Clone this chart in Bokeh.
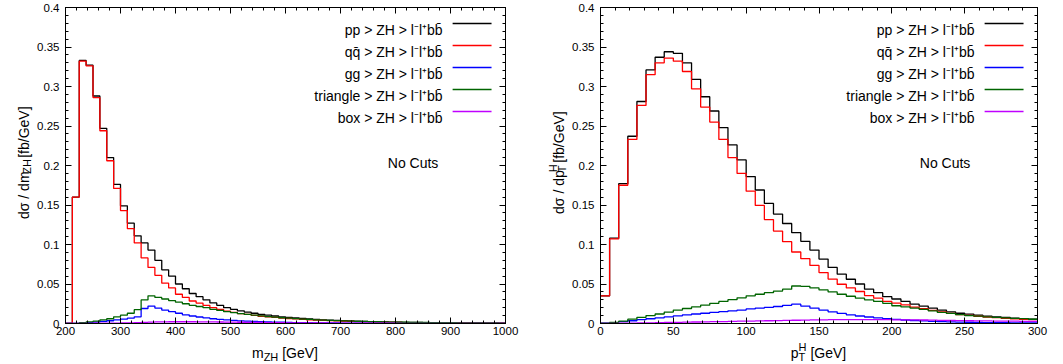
import math
from bokeh.plotting import figure
from bokeh.models import Range1d, LinearAxis, FixedTicker, Label
from bokeh.layouts import row, column
from bokeh.embed import file_html
from bokeh.resources import INLINE

# ---------------- data ----------------
# m_ZH histogram: 64 bins of 12.5 GeV from 200 to 1000 GeV
mzh_edges = [200 + 12.5 * i for i in range(65)]
pp_mzh = [0, 0.160, 0.333, 0.327, 0.288, 0.247, 0.210, 0.176, 0.149, 0.127,
          0.111, 0.102, 0.093, 0.080, 0.068, 0.060, 0.050, 0.044, 0.038, 0.034,
          0.030, 0.026, 0.023, 0.020, 0.018, 0.016, 0.0145, 0.013, 0.0115, 0.0105,
          0.0095, 0.0085, 0.0077, 0.0070, 0.0063, 0.0057, 0.0052, 0.0047, 0.0043, 0.0039,
          0.0035, 0.0032, 0.0029, 0.0026, 0.0024, 0.0022, 0.0020, 0.0018, 0.0016, 0.0015,
          0.0014, 0.0013, 0.0012, 0.0011, 0.0010, 0.0009, 0.00085, 0.0008, 0.00075, 0.0007,
          0.00065, 0.0006, 0.00055, 0.0005]
qq_mzh = [0, 0.160, 0.332, 0.326, 0.286, 0.244, 0.206, 0.171, 0.143, 0.120,
          0.102, 0.083, 0.071, 0.061, 0.051, 0.045, 0.037, 0.033, 0.0285, 0.0258,
          0.023, 0.020, 0.0178, 0.0155, 0.0141, 0.0126, 0.0115, 0.0104, 0.0092, 0.0085,
          0.0077, 0.0069, 0.0063, 0.0058, 0.0052, 0.0047, 0.0043, 0.0039, 0.0036, 0.00325,
          0.0029, 0.00265, 0.0024, 0.00215, 0.0020, 0.0018, 0.00165, 0.00145, 0.0013, 0.0012,
          0.00115, 0.00105, 0.0010, 0.0009, 0.0008, 0.00075, 0.0007, 0.00065, 0.00065, 0.0006,
          0.00055, 0.0005, 0.00045, 0.0004]
gg_mzh = [0, 0, 0.0005, 0.001, 0.0018, 0.0026, 0.0035, 0.0045, 0.0055, 0.0068,
          0.0085, 0.019, 0.022, 0.0195, 0.017, 0.015, 0.013, 0.011, 0.0095, 0.0082,
          0.007, 0.006, 0.0052, 0.0045, 0.0039, 0.0034, 0.003, 0.0026, 0.0023, 0.002,
          0.0018, 0.0016, 0.0014, 0.0012, 0.0011, 0.001, 0.0009, 0.0008, 0.0007, 0.00065,
          0.0006, 0.00055, 0.0005, 0.00045, 0.0004, 0.0004, 0.00035, 0.00035, 0.0003, 0.0003,
          0.00025, 0.00025, 0.0002, 0.0002, 0.0002, 0.00015, 0.00015, 0.00015, 0.0001, 0.0001,
          0.0001, 0.0001, 0.0001, 0.0001]
tri_mzh = [0, 0, 0.001, 0.002, 0.003, 0.0045, 0.006, 0.0085, 0.0105, 0.013,
           0.0175, 0.0298, 0.035, 0.033, 0.031, 0.029, 0.027, 0.025, 0.023, 0.0215,
           0.020, 0.018, 0.0165, 0.015, 0.0138, 0.0126, 0.0115, 0.0105, 0.0096, 0.0088,
           0.008, 0.0073, 0.0067, 0.0061, 0.0056, 0.0051, 0.0047, 0.0043, 0.004, 0.0037,
           0.0034, 0.0031, 0.0028, 0.0026, 0.0024, 0.0022, 0.002, 0.0018, 0.0017, 0.0016,
           0.0015, 0.0014, 0.0013, 0.0012, 0.0011, 0.001, 0.00095, 0.0009, 0.00085, 0.0008,
           0.00075, 0.0007, 0.00065, 0.0006]
box_mzh = [0, 0, 0.0001, 0.0002, 0.0003, 0.0004, 0.0005, 0.0006, 0.0007, 0.0008,
           0.001, 0.0015, 0.0018, 0.002, 0.0021, 0.0022, 0.0022, 0.0022, 0.0022, 0.0021,
           0.0021, 0.002, 0.0019, 0.0018, 0.0017, 0.0016, 0.0015, 0.0014, 0.0013, 0.0012,
           0.0011, 0.001, 0.0009, 0.00085, 0.0008, 0.00075, 0.0007, 0.00065, 0.0006, 0.00055,
           0.0005, 0.00045, 0.0004, 0.0004, 0.00035, 0.00035, 0.0003, 0.0003, 0.00025, 0.00025,
           0.0002, 0.0002, 0.0002, 0.00015, 0.00015, 0.00015, 0.0001, 0.0001, 0.0001, 0.0001,
           0.0001, 0.0001, 0.0001, 0.0001]

# p_T^H histogram: 48 bins of 6.25 GeV from 0 to 300 GeV
pt_edges = [6.25 * i for i in range(49)]
pp_pt = [0.035, 0.108, 0.177, 0.237, 0.281, 0.321, 0.337, 0.344, 0.342, 0.330,
         0.309, 0.287, 0.269, 0.248, 0.226, 0.207, 0.186, 0.169, 0.152, 0.1385,
         0.1266, 0.115, 0.104, 0.093, 0.0815, 0.071, 0.0625, 0.056, 0.050, 0.0435,
         0.039, 0.034, 0.031, 0.028, 0.0245, 0.022, 0.0195, 0.017, 0.0148, 0.013,
         0.0119, 0.0106, 0.0094, 0.0085, 0.0076, 0.0068, 0.0061, 0.0055]
qq_pt = [0.035, 0.107, 0.175, 0.233, 0.276, 0.315, 0.330, 0.336, 0.332, 0.319,
         0.297, 0.274, 0.255, 0.233, 0.210, 0.190, 0.1675, 0.1495, 0.1315, 0.117,
         0.1036, 0.0905, 0.082, 0.0735, 0.0645, 0.0562, 0.0497, 0.045, 0.0405, 0.0353,
         0.032, 0.028, 0.0259, 0.0236, 0.0207, 0.0187, 0.0167, 0.0146, 0.0127, 0.0112,
         0.0103, 0.0092, 0.0082, 0.0074, 0.0066, 0.0059, 0.0053, 0.0048]
gg_pt = [0.0003, 0.001, 0.0025, 0.0035, 0.0048, 0.006, 0.0072, 0.0085, 0.0097, 0.011,
         0.012, 0.013, 0.014, 0.015, 0.016, 0.017, 0.0185, 0.0195, 0.0205, 0.0215,
         0.023, 0.0245, 0.022, 0.0195, 0.017, 0.0148, 0.0128, 0.011, 0.0095, 0.0082,
         0.007, 0.006, 0.0051, 0.0044, 0.0038, 0.0033, 0.0028, 0.0024, 0.0021, 0.0018,
         0.0016, 0.0014, 0.0012, 0.0011, 0.001, 0.0009, 0.0008, 0.0007]
tri_pt = [0.0005, 0.0015, 0.003, 0.0055, 0.0078, 0.010, 0.012, 0.0145, 0.017, 0.019,
          0.021, 0.0232, 0.0255, 0.028, 0.0302, 0.0325, 0.035, 0.037, 0.039, 0.041,
          0.0435, 0.0475, 0.047, 0.045, 0.0425, 0.040, 0.037, 0.0345, 0.032, 0.030,
          0.028, 0.0255, 0.0225, 0.021, 0.0195, 0.018, 0.016, 0.014, 0.0128, 0.0112,
          0.0100, 0.0093, 0.0085, 0.0078, 0.0071, 0.0066, 0.0061, 0.0054]
box_pt = [0, 0.0001, 0.0003, 0.0005, 0.0007, 0.0009, 0.0011, 0.0013, 0.0015, 0.0017,
          0.0019, 0.0021, 0.0023, 0.0025, 0.0027, 0.0029, 0.0031, 0.0033, 0.0035, 0.0037,
          0.0039, 0.0041, 0.0043, 0.0045, 0.0047, 0.0049, 0.005, 0.005, 0.005, 0.005,
          0.0049, 0.0048, 0.0047, 0.0046, 0.0045, 0.0044, 0.0042, 0.004, 0.0038, 0.0037,
          0.0035, 0.0034, 0.0032, 0.0031, 0.003, 0.0029, 0.0028, 0.0027]

legend_labels = ["pp > ZH > l\u207bl\u207abb\u0304",
                 "qq\u0304 > ZH > l\u207bl\u207abb\u0304",
                 "gg > ZH > l\u207bl\u207abb\u0304",
                 "triangle > ZH > l\u207bl\u207abb\u0304",
                 "box > ZH > l\u207bl\u207abb\u0304"]
series_colors = ["#000000", "#ff0000", "#0000ff", "#006400", "#c000ff"]

y_ticks = [0, 0.05, 0.1, 0.15, 0.2, 0.25, 0.3, 0.35, 0.4]
y_tick_labels = ["0", "0.05", "0.1", "0.15", "0.2", "0.25", "0.3", "0.35", "0.4"]
y_minor = [i * 0.01 for i in range(41)]
mzh_ticks = [200, 300, 400, 500, 600, 700, 800, 900, 1000]
mzh_tick_labels = ["200", "300", "400", "500", "600", "700", "800", "900", "1000"]
mzh_minor = [200 + 20 * i for i in range(41)]
pt_ticks = [0, 50, 100, 150, 200, 250, 300]
pt_tick_labels = ["0", "50", "100", "150", "200", "250", "300"]
pt_minor = [10 * i for i in range(31)]

note_text = "No Cuts"

# axis-title pieces: (text, font px, perpendicular shift px, advances)
mzh_xlabel = [("m", 14, 0, True), ("ZH", 11, 4, True), (" [GeV]", 14, 0, True)]
mzh_ylabel = [("d\u03c3 / dm", 14, 0, True), ("ZH", 11, 3.5, True), (" [fb/GeV]", 14, 0, True)]
pt_xlabel = [("p", 14, 0, True), ("T", 11, 4, False), ("H", 11, -6, True), (" [GeV]", 14, 0, True)]
pt_ylabel = [("d\u03c3 / dp", 14, 0, True), ("T", 11, 3.5, False), ("H", 11, -6, True),
             (" [fb/GeV]", 14, 0, True)]

# ---------------- helpers ----------------
FONT = "Liberation Sans"
ARIAL_W = {' ': 278, '[': 278, ']': 278, '/': 278, 'd': 556, 'm': 833, 'p': 556,
           'f': 278, 'b': 556, 'G': 778, 'e': 556, 'V': 667, 'Z': 611, 'H': 722,
           'T': 611, '\u03c3': 600}

TOTAL_H = 364
MAIN_H = 340        # height of the plotting figures
XLAB_H = TOTAL_H - MAIN_H
FRAME_T, FRAME_B = 7, 323


def tw(s, size):
    return sum(ARIAL_W.get(c, 556) for c in s) * size / 1000.0


def split_lead(t):
    """SVG drops leading blanks: return (blank width in chars, stripped text)."""
    stripped = t.lstrip(" ")
    return len(t) - len(stripped), stripped


def style_axis(ax, visible_labels, standoff=0, overrides=None):
    ax.axis_line_color = "black"
    ax.axis_line_width = 1
    ax.major_tick_line_color = "black"
    ax.minor_tick_line_color = "black"
    ax.major_tick_in = 6
    ax.major_tick_out = 0
    ax.minor_tick_in = 3
    ax.minor_tick_out = 0
    if visible_labels:
        ax.major_label_text_font = FONT
        ax.major_label_text_font_size = "11.5px"
        ax.major_label_text_color = "black"
        ax.major_label_standoff = standoff
        if overrides:
            ax.major_label_overrides = overrides
    else:
        ax.major_label_text_font_size = "0px"
        ax.major_label_text_color = None
        ax.major_label_standoff = 0


def text_fig(w, h):
    f = figure(width=w, height=h, x_range=Range1d(0, w), y_range=Range1d(0, h),
               output_backend="svg", toolbar_location=None, title=None,
               x_axis_type=None, y_axis_type=None,
               min_border_left=0, min_border_right=0, min_border_top=0, min_border_bottom=0)
    f.outline_line_color = None
    f.background_fill_color = "white"
    f.border_fill_color = "white"
    return f


def make_panel(W, BL, x0, x1, edges, series, xticks, xtick_labels, xminor):
    BT, BB, BR = FRAME_T, MAIN_H - FRAME_B, 26
    L, R, T, B = BL, W - BR, BT, MAIN_H - BB
    p = figure(width=W, height=MAIN_H, x_range=Range1d(x0, x1), y_range=Range1d(0, 0.4),
               output_backend="svg", toolbar_location=None, title=None,
               x_axis_type=None, y_axis_type=None,
               min_border_left=BL, min_border_right=BR,
               min_border_top=BT, min_border_bottom=BB)
    p.outline_line_color = "black"
    p.background_fill_color = "white"
    p.border_fill_color = "white"

    def dx(px):
        return x0 + (px - L) / (R - L) * (x1 - x0)

    def dy(py):
        return 0.4 - (py - T) / (B - T) * 0.4

    xt = FixedTicker(ticks=xticks, minor_ticks=xminor)
    yt = FixedTicker(ticks=y_ticks, minor_ticks=y_minor)
    bx = LinearAxis(ticker=xt)
    style_axis(bx, True, 3, {t: l for t, l in zip(xticks, xtick_labels)})
    ly = LinearAxis(ticker=yt)
    style_axis(ly, True, 6, {t: l for t, l in zip(y_ticks, y_tick_labels)})
    tx = LinearAxis(ticker=xt)
    style_axis(tx, False)
    ry = LinearAxis(ticker=yt)
    style_axis(ry, False)
    p.add_layout(bx, "below")
    p.add_layout(ly, "left")
    p.add_layout(tx, "above")
    p.add_layout(ry, "right")

    for vals, col in zip(series, series_colors):
        p.step(x=edges, y=list(vals) + [vals[-1]], mode="after",
               line_color=col, line_width=1.3)

    # legend (text right-aligned, sample line on the right)
    for i, (lab, col) in enumerate(zip(legend_labels, series_colors)):
        yc = 23 + 22 * i
        p.add_layout(Label(x=dx(R - 63), y=dy(yc + 6.3), text=lab, text_font=FONT,
                           text_font_size="14px", text_align="right",
                           text_baseline="alphabetic", text_color="black"))
        p.segment(x0=[dx(R - 53)], y0=[dy(yc)], x1=[dx(R - 14)], y1=[dy(yc)],
                  line_color=col, line_width=1.3)

    p.add_layout(Label(x=dx(R - 118), y=dy(162.3), text=note_text, text_font=FONT,
                       text_font_size="14px", text_align="left",
                       text_baseline="alphabetic", text_color="black"))
    return p


def xlabel_fig(w, center_x, pieces):
    f = text_fig(w, XLAB_H)
    base = TOTAL_H - 352          # baseline, measured from the bottom of the page
    total = sum(tw(t, s) for t, s, sh, adv in pieces if adv)
    cur = center_x - total / 2.0
    for t, s, sh, adv in pieces:
        nlead, txt = split_lead(t)
        f.add_layout(Label(x=cur + tw(" " * nlead, s), y=base - sh, text=txt, text_font=FONT,
                           text_font_size=f"{s}px", text_align="left",
                           text_baseline="alphabetic", text_color="black"))
        if adv:
            cur += tw(t, s)
    return f


def ylabel_fig(w, base_x, pieces):
    f = text_fig(w, MAIN_H)
    total = sum(tw(t, s) for t, s, sh, adv in pieces if adv)
    cy = MAIN_H - 167.0
    cur = cy - total / 2.0
    for t, s, sh, adv in pieces:
        nlead, txt = split_lead(t)
        start = cur + tw(" " * nlead, s)
        mid = start + tw(txt, s) / 2.0
        f.add_layout(Label(x=base_x + sh, y=mid, text=txt, text_font=FONT,
                           text_font_size=f"{s}px", text_align="center",
                           text_baseline="alphabetic", angle=math.pi / 2,
                           text_color="black"))
        if adv:
            cur += tw(t, s)
    return f


YL_W_LEFT, YL_W_RIGHT = 34, 38
left_main = make_panel(531 - YL_W_LEFT, 64 - YL_W_LEFT, 200, 1000, mzh_edges,
                       [pp_mzh, qq_mzh, gg_mzh, tri_mzh, box_mzh],
                       mzh_ticks, mzh_tick_labels, mzh_minor)
right_main = make_panel(532 - YL_W_RIGHT, 68 - YL_W_RIGHT, 0, 300, pt_edges,
                        [pp_pt, qq_pt, gg_pt, tri_pt, box_pt],
                        pt_ticks, pt_tick_labels, pt_minor)
left_ylab = ylabel_fig(YL_W_LEFT, 23, mzh_ylabel)
right_ylab = ylabel_fig(YL_W_RIGHT, 27, pt_ylabel)
left_xlab = xlabel_fig(531, (64 + 505) / 2.0, mzh_xlabel)
right_xlab = xlabel_fig(532, (68 + 506) / 2.0, pt_xlabel)

layout = column(row(left_ylab, left_main, right_ylab, right_main),
                row(left_xlab, right_xlab))
open("out.html", "w").write(file_html(layout, INLINE))
